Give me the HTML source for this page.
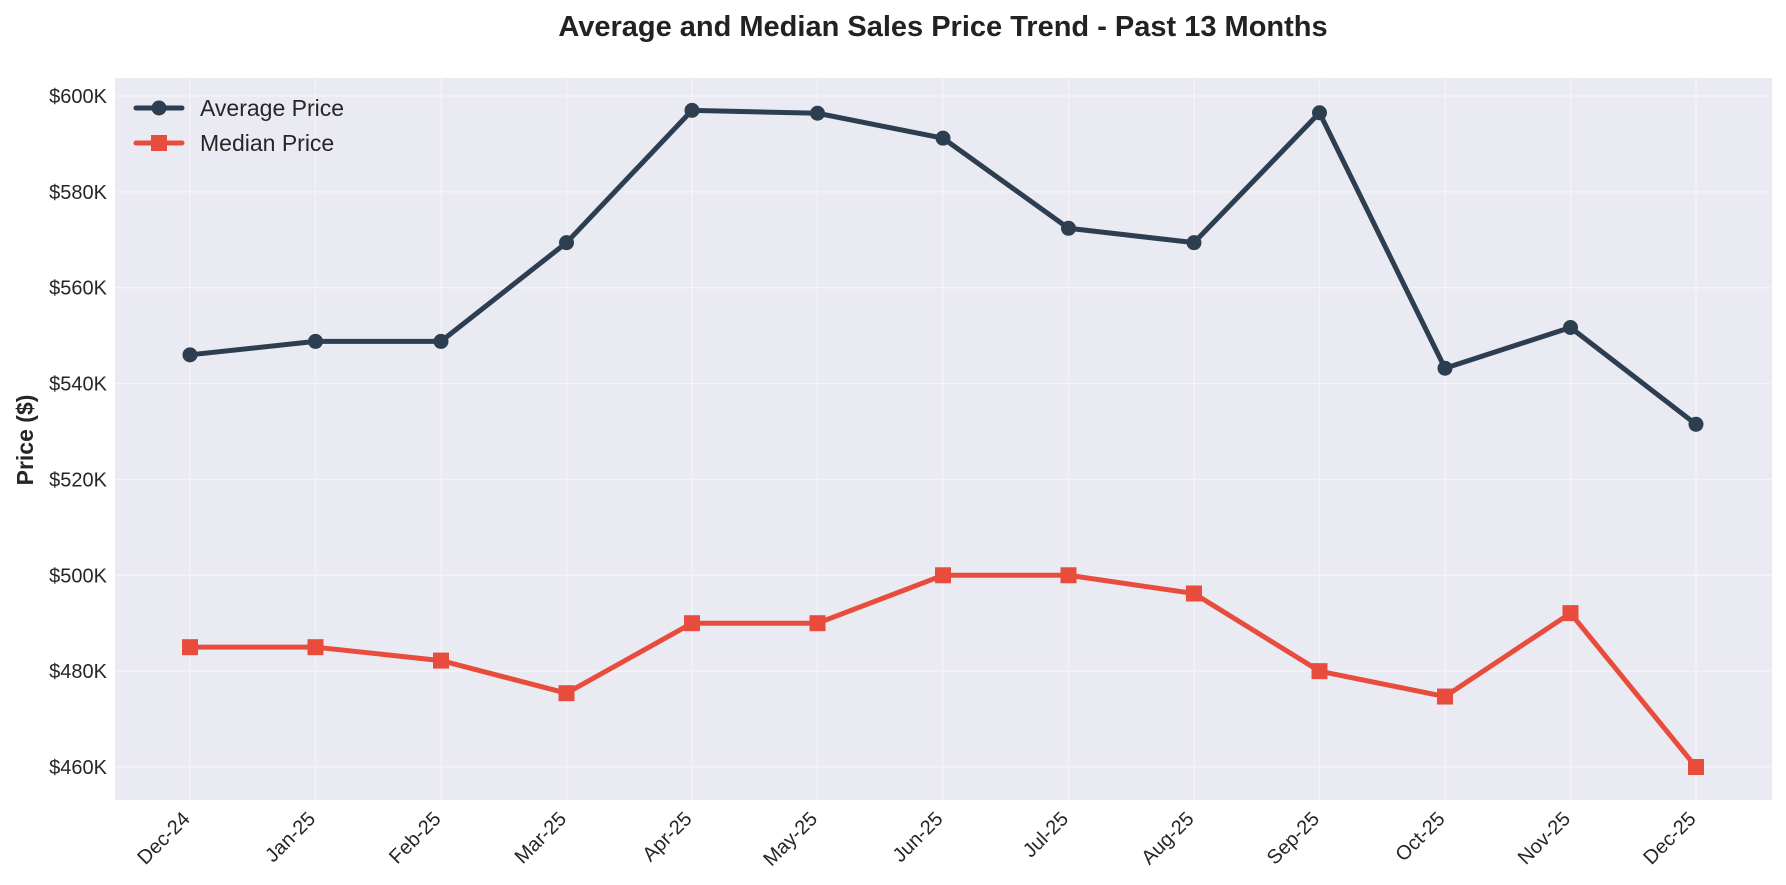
<!DOCTYPE html>
<html><head><meta charset="utf-8"><style>
html,body{margin:0;padding:0;background:#fff;}
svg{display:block;font-family:"Liberation Sans",sans-serif;}
</style></head><body>
<svg id="c" width="1786" height="885" xmlns="http://www.w3.org/2000/svg"></svg>
<script>
const s=document.getElementById('c');
const L=115,T=78,R=1772,B=800;
const y=v=>96+(600-v)/20*95.857;
const x=i=>190+i*125.5;
const months=["Dec-24","Jan-25","Feb-25","Mar-25","Apr-25","May-25","Jun-25","Jul-25","Aug-25","Sep-25","Oct-25","Nov-25","Dec-25"];
const avg=[546,548.8,548.8,569.4,597,596.4,591.2,572.4,569.4,596.5,543.2,551.7,531.5];
const med=[485,485,482.2,475.4,490,490,500,500,496.2,480,474.7,492.1,460];
let h=`<text x="943" y="36" text-anchor="middle" font-size="29" font-weight="bold" fill="#222">Average and Median Sales Price Trend - Past 13 Months</text>`;
h+=`<rect x="${L}" y="${T}" width="${R-L}" height="${B-T}" fill="#eaeaf2"/>`;
for(let v=460;v<=600;v+=20){h+=`<line x1="${L}" x2="${R}" y1="${y(v)}" y2="${y(v)}" stroke="#f4f4f8" stroke-width="1.2"/>`;
h+=`<text x="107" y="${y(v)+7}" text-anchor="end" font-size="20" fill="#262626">$${v}K</text>`;}
months.forEach((m,i)=>{h+=`<line y1="${T}" y2="${B}" x1="${x(i)}" x2="${x(i)}" stroke="#f4f4f8" stroke-width="1.2"/>`;
h+=`<text transform="translate(${x(i)+1},${820}) rotate(-45)" text-anchor="end" font-size="20" fill="#262626">${m}</text>`;});
h+=`<text transform="translate(33,440) rotate(-90)" text-anchor="middle" font-size="23" font-weight="bold" fill="#262626">Price ($)</text>`;
const pts=a=>a.map((v,i)=>x(i)+','+y(v)).join(' ');
h+=`<polyline points="${pts(avg)}" fill="none" stroke="#2c3e50" stroke-width="5" stroke-linejoin="round"/>`;
avg.forEach((v,i)=>h+=`<circle cx="${x(i)}" cy="${y(v)}" r="7.5" fill="#2c3e50"/>`);
h+=`<polyline points="${pts(med)}" fill="none" stroke="#e74c3c" stroke-width="5" stroke-linejoin="round"/>`;
med.forEach((v,i)=>h+=`<rect x="${x(i)-8}" y="${y(v)-8}" width="16" height="16" fill="#e74c3c"/>`);
h+=`<line x1="136" x2="182" y1="108" y2="108" stroke="#2c3e50" stroke-width="5" stroke-linecap="round"/><circle cx="159" cy="108" r="7.5" fill="#2c3e50"/>`;
h+=`<text x="200" y="116" font-size="23" fill="#262626">Average Price</text>`;
h+=`<line x1="136" x2="182" y1="143" y2="143" stroke="#e74c3c" stroke-width="5" stroke-linecap="round"/><rect x="151" y="135" width="16" height="16" fill="#e74c3c"/>`;
h+=`<text x="200" y="151" font-size="23" fill="#262626">Median Price</text>`;
s.innerHTML=h;
</script>
</body></html>
